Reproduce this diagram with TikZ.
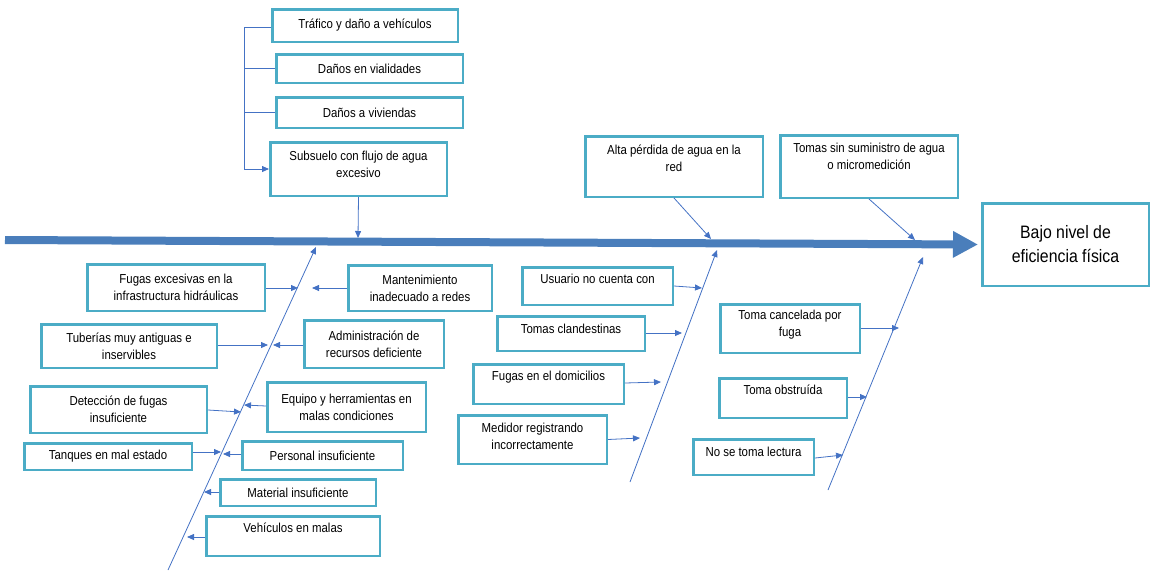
\documentclass[tikz,border=0pt]{standalone}
\usepackage{fontspec}
\setmainfont{Liberation Sans}[FakeStretch=0.88]
\usepackage{tikz}
\usetikzlibrary{arrows.meta, calc, positioning}
\usepackage{xcolor}
\definecolor{myteal}{HTML}{4BACC6}
\definecolor{myblue}{HTML}{4472C4}
\definecolor{myspine}{HTML}{4A7EBB}
\tikzset{
  box/.style={draw=myteal, line width=2.5pt, fill=white, inner sep=2pt, align=center, font=\fontsize{13}{17}\selectfont},
  txt/.style={inner sep=0pt, align=center, font=\fontsize{13}{17}\selectfont},
  link/.style={myblue, line width=0.8pt, -{Triangle[length=7pt,width=6pt]}},
  plain/.style={myblue, line width=0.8pt},
  spine/.style={myspine, line width=8pt, -{Triangle[length=25pt,width=25pt]}, shorten >=-1pt}
}
\begin{document}
\begin{tikzpicture}[x=1pt, y=-1pt]
\useasboundingbox (0,0) rectangle (1151,571);
\node[box, minimum width=185.5pt, minimum height=32.5pt] (trafico) at (365,25.5) {Tráfico y daño a vehículos};
\node[box, minimum width=186.5pt, minimum height=28.5pt] (vialidades) at (369.5,68.5) {Daños en vialidades};
\node[box, minimum width=186.5pt, minimum height=30.5pt] (viviendas) at (369.5,112.5) {Daños a viviendas};
\node[box, minimum width=176.5pt, minimum height=53.5pt] (subsuelo) at (358.5,169) {};
\node[txt] (subsuelo-t) at ([yshift=-23pt]subsuelo.north) {Subsuelo con flujo de agua\\excesivo};
\node[box, minimum width=177.5pt, minimum height=60.5pt] (alta) at (674,166.5) {};
\node[txt] (alta-t) at ([yshift=-23pt]alta.north) {Alta pérdida de agua en la\\red};
\node[box, minimum width=177.5pt, minimum height=62.5pt] (tomassin) at (869,166.5) {};
\node[txt] (tomassin-t) at ([yshift=-22pt]tomassin.north) {Tomas sin suministro de agua\\o micromedición};
\node[box, minimum width=166.5pt, minimum height=82.5pt, font=\fontsize{18}{24}\selectfont] (goal) at (1065.5,244.5) {Bajo nivel de\\eficiencia física};

\node[box, minimum width=177.5pt, minimum height=46.5pt] (fugasexc) at (176,287.5) {Fugas excesivas en la\\infrastructura hidráulicas};
\node[box, minimum width=143.5pt, minimum height=45.5pt] (manten) at (420,288) {Mantenimiento\\inadecuado a redes};
\node[box, minimum width=175.5pt, minimum height=43.5pt] (tuberias) at (129,346) {Tuberías muy antiguas e\\inservibles};
\node[box, minimum width=139.5pt, minimum height=47.5pt] (admin) at (374,344) {Administración de\\recursos deficiente};
\node[box, minimum width=176.5pt, minimum height=46.5pt] (deteccion) at (118.5,409.5) {Detección de fugas\\insuficiente};
\node[box, minimum width=158.5pt, minimum height=49.5pt] (equipo) at (346.5,407) {Equipo y herramientas en\\malas condiciones};
\node[box, minimum width=167.5pt, minimum height=26.5pt] (tanques) at (108,456.5) {Tanques en mal estado};
\node[box, minimum width=160.5pt, minimum height=28.5pt] (personal) at (322.5,455.5) {Personal insuficiente};
\node[box, minimum width=155.5pt, minimum height=26.5pt] (material) at (298,492.5) {Material insuficiente};
\node[box, minimum width=173.5pt, minimum height=39.5pt] (vehiculos) at (293,536) {};
\node[txt] (vehiculos-t) at ([yshift=-13pt]vehiculos.north) {Vehículos en malas};

\node[box, minimum width=150.5pt, minimum height=37.5pt] (usuario) at (597.5,286) {};
\node[txt] (usuario-t) at ([yshift=-13pt]usuario.north) {Usuario no cuenta con};
\node[box, minimum width=147.5pt, minimum height=34.5pt] (clandest) at (571,333.5) {};
\node[txt] (clandest-t) at ([yshift=-14pt]clandest.north) {Tomas clandestinas};
\node[box, minimum width=150.5pt, minimum height=39.5pt] (fugasdom) at (548.5,384) {};
\node[txt] (fugasdom-t) at ([yshift=-14pt]fugasdom.north) {Fugas en el domicilios};
\node[box, minimum width=148.5pt, minimum height=48.5pt] (medidor) at (532.5,439.5) {};
\node[txt] (medidor-t) at ([yshift=-22pt]medidor.north) {Medidor registrando\\incorrectamente};

\node[box, minimum width=139.5pt, minimum height=48.5pt] (cancelada) at (790,328.5) {};
\node[txt] (cancelada-t) at ([yshift=-22pt]cancelada.north) {Toma cancelada por\\fuga};
\node[box, minimum width=127.5pt, minimum height=39.5pt] (obstruida) at (783,398) {};
\node[txt] (obstruida-t) at ([yshift=-13pt]obstruida.north) {Toma obstruída};
\node[box, minimum width=120.5pt, minimum height=35.5pt] (lectura) at (753.5,457) {};
\node[txt] (lectura-t) at ([yshift=-14pt]lectura.north) {No se toma lectura};

\coordinate (tail) at (5,240);
\draw[spine] (tail) -- ([xshift=-4pt]goal.west);

\coordinate (bk) at (244,27);
\draw[link] (trafico.west |- bk) -- (bk) |- (subsuelo.west);
\draw[plain] (vialidades.west) -- (vialidades.west -| bk);
\draw[plain] (viviendas.west) -- (viviendas.west -| bk);

\coordinate (s1) at (358,238);
\coordinate (s2) at (711,239);
\coordinate (s3) at (915,240);
\draw[link] (subsuelo.south) -- (s1);
\draw[link] (alta.south) -- (s2);
\draw[link] (tomassin.south) -- (s3);

\coordinate (b1-foot) at (168,570);
\coordinate (b1-head) at (316,247);
\coordinate (b2-foot) at (630,482);
\coordinate (b2-head) at (717,250);
\coordinate (b3-foot) at (828,490);
\coordinate (b3-head) at (923,257);
\draw[link] (b1-foot) -- (b1-head);
\draw[link] (b2-foot) -- (b2-head);
\draw[link] (b3-foot) -- (b3-head);

\coordinate (t-fugasexc) at (298,288);
\coordinate (t-manten) at (312,288);
\coordinate (t-tuberias) at (268,345);
\coordinate (t-admin) at (273,345);
\coordinate (t-deteccion) at (241,412);
\coordinate (t-equipo) at (244,405);
\coordinate (t-tanques) at (221,452);
\coordinate (t-personal) at (223,454);
\coordinate (t-material) at (204,492);
\coordinate (t-vehiculos) at (187,537);
\draw[link] (fugasexc.east |- t-fugasexc) -- (t-fugasexc);
\draw[link] (manten.west |- t-manten) -- (t-manten);
\draw[link] (tuberias.east |- t-tuberias) -- (t-tuberias);
\draw[link] (admin.west |- t-admin) -- (t-admin);
\draw[link] ([yshift=-0.5pt]deteccion.east) -- (t-deteccion);
\draw[link] ([yshift=1pt]equipo.west) -- (t-equipo);
\draw[link] (tanques.east |- t-tanques) -- (t-tanques);
\draw[link] (personal.west |- t-personal) -- (t-personal);
\draw[link] (material.west |- t-material) -- (t-material);
\draw[link] (vehiculos.west |- t-vehiculos) -- (t-vehiculos);

\coordinate (t-usuario) at (702,288);
\coordinate (t-clandest) at (682,333);
\coordinate (t-fugasdom) at (661,382);
\coordinate (t-medidor) at (640,438);
\draw[link] (usuario.east) -- (t-usuario);
\draw[link] (clandest.east |- t-clandest) -- (t-clandest);
\draw[link] ([yshift=1pt]fugasdom.east) -- (t-fugasdom);
\draw[link] (medidor.east) -- (t-medidor);

\coordinate (t-cancelada) at (899,328);
\coordinate (t-obstruida) at (867,397);
\coordinate (t-lectura) at (843,455);
\draw[link] (cancelada.east |- t-cancelada) -- (t-cancelada);
\draw[link] (obstruida.east |- t-obstruida) -- (t-obstruida);
\draw[link] ([yshift=-1pt]lectura.east) -- (t-lectura);
\end{tikzpicture}
\end{document}
